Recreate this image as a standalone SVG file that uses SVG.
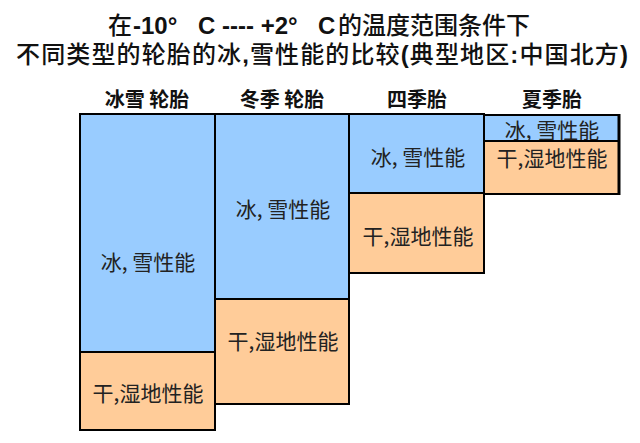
<svg xmlns="http://www.w3.org/2000/svg" width="640" height="443" viewBox="0 0 640 443">
<style>
.t{font-family:"Liberation Sans","Noto Sans CJK SC",sans-serif;fill:#111}
.b{font-weight:bold}
.m{font-weight:500}
.h{font-family:"Noto Sans CJK SC",sans-serif;font-weight:bold;font-size:20px;fill:#111;text-anchor:middle}
.l{font-family:"Noto Sans CJK SC",sans-serif;font-size:21px;fill:#222;text-anchor:middle}
.ice{fill:#99CCFF;stroke:#000;stroke-width:2}
.dry{fill:#FFCC99;stroke:#000;stroke-width:2}
</style>
<rect width="640" height="443" fill="#fff"/>
<g id="title">
<text class="t m" font-size="24" y="34"><tspan x="108">在</tspan><tspan class="b" x="133">-10°</tspan><tspan class="b" x="198">C ---- +2°</tspan><tspan class="b" x="318">C</tspan><tspan x="338">的温度范围条件下</tspan></text>
<text class="t m" font-size="24" x="16" y="63" textLength="612" lengthAdjust="spacing">不同类型的轮胎的冰<tspan class="b">,</tspan>雪性能的比较<tspan class="b">(</tspan>典型地区<tspan class="b">:</tspan>中国北方<tspan class="b">)</tspan></text>
</g>
<g id="headers">
<text class="h" x="147" y="107">冰雪 轮胎</text>
<text class="h" x="282" y="107">冬季 轮胎</text>
<text class="h" x="417" y="107">四季胎</text>
<text class="h" x="552" y="107">夏季胎</text>
</g>
<g id="col1">
<rect class="ice" x="80" y="114" width="135" height="238"/>
<rect class="dry" x="80" y="352" width="135" height="78"/>
<text class="l" x="148" y="270">冰, 雪性能</text>
<text class="l" x="148" y="401">干,湿地性能</text>
</g>
<g id="col2">
<rect class="ice" x="215" y="114" width="134" height="185"/>
<rect class="dry" x="215" y="299" width="134" height="105"/>
<text class="l" x="283" y="217">冰, 雪性能</text>
<text class="l" x="283" y="349">干,湿地性能</text>
</g>
<g id="col3">
<rect class="ice" x="349" y="114" width="135" height="79"/>
<rect class="dry" x="349" y="193" width="135" height="80"/>
<text class="l" x="418" y="165">冰, 雪性能</text>
<text class="l" x="418" y="244">干,湿地性能</text>
</g>
<g id="col4">
<rect class="ice" x="484" y="115" width="135" height="26"/>
<text class="l" x="552" y="138" font-size="20">冰, 雪性能</text>
<rect class="dry" x="484" y="141" width="135" height="53"/>
<text class="l" x="552" y="166">干,湿地性能</text>
<line x1="619" y1="114" x2="619" y2="195" stroke="#000" stroke-width="3"/>
</g>
<g id="connectors"></g>
</svg>
